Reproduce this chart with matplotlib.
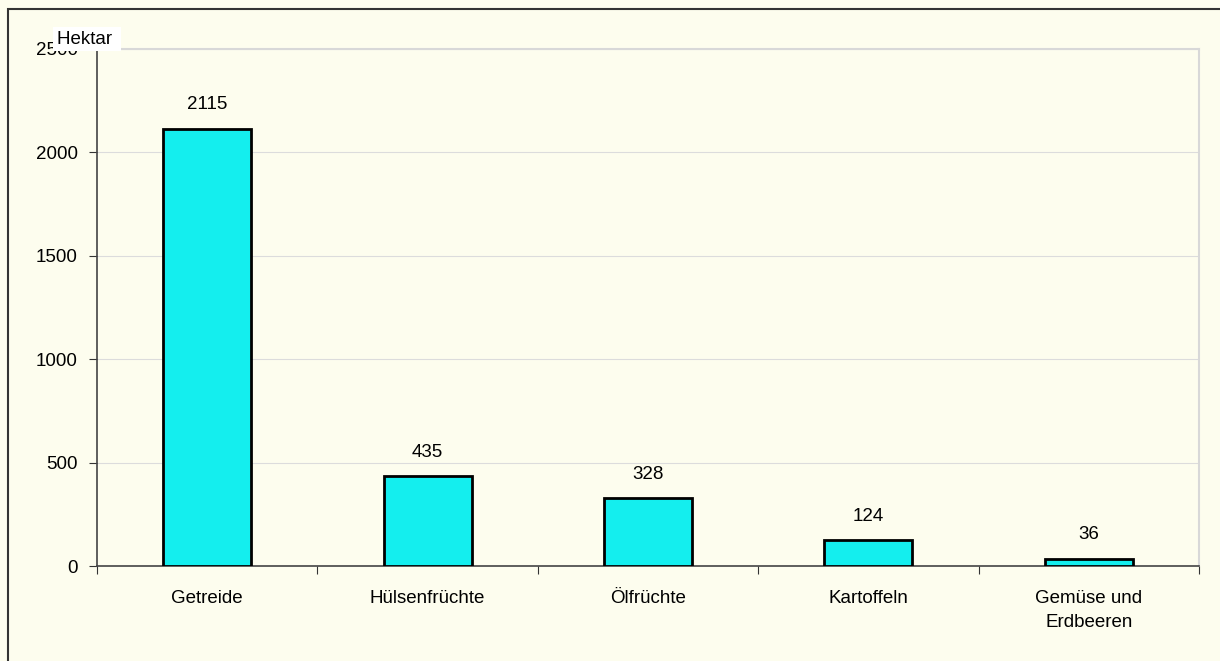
import numpy as np
import matplotlib.pyplot as plt
from matplotlib.patches import Rectangle

# Anbaufläche nach Kulturart
kulturen = ['Getreide', 'Hülsenfrüchte', 'Ölfrüchte', 'Kartoffeln', 'Gemüse und\nErdbeeren']
hektar = [2115, 435, 328, 124, 36]
y_ticks = [0, 500, 1000, 1500, 2000, 2500]
y_labels = ['0', '500', '1000', '1500', '2000', '2500']

bg = '#fdfdee'
fs = 13.5
plt.rcParams['font.family'] = ['Liberation Sans', 'DejaVu Sans']

fig = plt.figure(figsize=(12.2, 6.61), dpi=100, facecolor=bg)
ax = fig.add_axes([0.0795, 0.1437, 0.9033, 0.7822])
ax.set_facecolor(bg)

x = np.arange(len(kulturen))
ax.bar(x, hektar, width=0.4, color='#14eeee', edgecolor='black', linewidth=2, zorder=3)
for xi, v in zip(x, hektar):
    ax.annotate(str(v), (xi, v), xytext=(0, 11), textcoords='offset points',
                ha='center', va='bottom', fontsize=fs)

ax.set_xlim(-0.5, len(kulturen) - 0.5)
ax.set_ylim(0, 2500)
ax.set_yticks(y_ticks)
ax.set_yticklabels(y_labels, fontsize=fs)
ax.set_xticks(np.arange(-0.5, len(kulturen)), minor=False)
ax.set_xticklabels([])
ax.set_xticks(x, minor=True)
ax.set_xticklabels(kulturen, minor=True, fontsize=fs, linespacing=1.55)
ax.tick_params(axis='x', which='minor', length=0, pad=17)
ax.tick_params(axis='x', which='major', length=6, color='#333333')
ax.tick_params(axis='y', length=6, color='#333333', pad=8)

ax.yaxis.grid(True, color='#dcdcdc', linewidth=0.8, zorder=0)
for s in ['top', 'right']:
    ax.spines[s].set_color('#d8d8d8')
    ax.spines[s].set_linewidth(1.5)
for s in ['left', 'bottom']:
    ax.spines[s].set_color('#444444')
    ax.spines[s].set_linewidth(1.2)

# Einheitenbeschriftung (verdeckt wie im Original die obere Achsenbeschriftung)
fig.text(57 / 1220, 1 - 39 / 661, 'Hektar ', fontsize=fs, va='center', ha='left',
         bbox=dict(facecolor='white', edgecolor='none', pad=2.5))

# Rahmen um die Grafik
fig.patches.append(Rectangle((8 / 1220, -0.1), 1.2, 1 - 9 / 661 + 0.1,
                             transform=fig.transFigure, fill=False,
                             edgecolor='#333333', linewidth=1.5))

fig.savefig('out.png', dpi=100, facecolor=bg)
